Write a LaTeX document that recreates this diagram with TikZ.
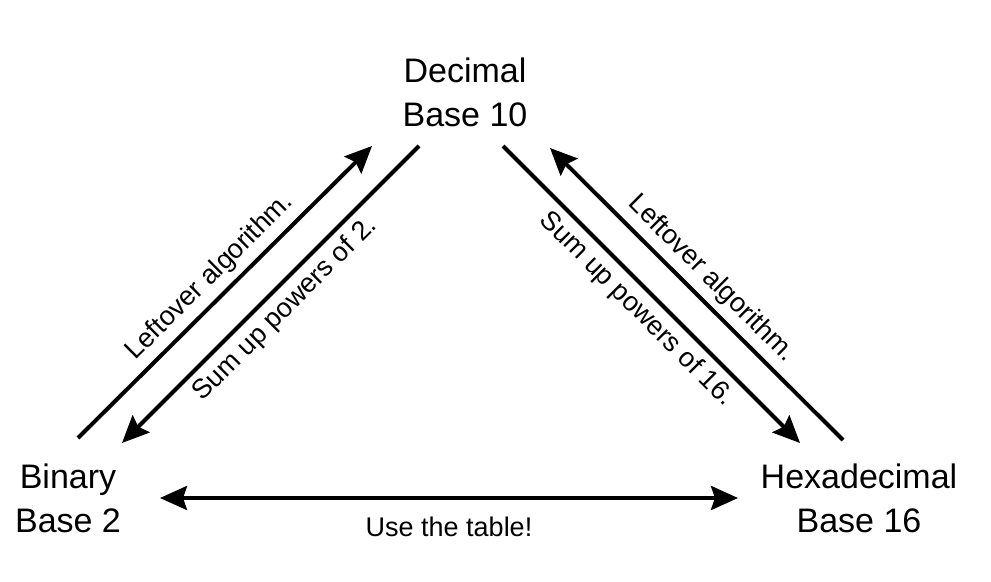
\documentclass[tikz,border=0pt]{standalone}
\usepackage{fontspec}
\setmainfont{Liberation Sans}
\usetikzlibrary{arrows.meta}

\begin{document}
\begin{tikzpicture}[x=0.5pt, y=-0.5pt]

% Define styles
\tikzstyle{base}=[align=center, font=\fontsize{17}{22}\selectfont]
\tikzstyle{conv}=[line width=2pt]
\tikzstyle{note}=[font=\fontsize{13.5}{16}\selectfont]
\tikzset{>={Stealth[length=13.5pt, width=12pt, inset=2pt]}}

% Page
\useasboundingbox (0,0) rectangle (991,582);

% Number systems
\node[base] (dec) at (465,92) {Decimal\\Base 10};
\node[base] (bin) at (68,498) {Binary\\Base 2};
\node[base] (hex) at (859,498) {Hexadecimal\\Base 16};

% Arrow ends
\coordinate (binA) at (78,438);
\coordinate (decA) at (372,146);
\coordinate (binB) at (122,443);
\coordinate (decB) at (419,146);
\coordinate (decC) at (503,146);
\coordinate (hexC) at (800,443);
\coordinate (decD) at (550,148);
\coordinate (hexD) at (843,440);
\coordinate (binE) at (160,498);
\coordinate (hexE) at (738,498);

% Conversions
\draw[conv, ->] (binA) -- (decA) node[note, sloped, midway, above] {Leftover algorithm.};
\draw[conv, <-] (binB) -- (decB) node[note, sloped, midway, below] {Sum up powers of 2.};
\draw[conv, ->] (decC) -- (hexC) node[note, sloped, midway, below] {Sum up powers of 16.};
\draw[conv, <-] (decD) -- (hexD) node[note, sloped, midway, above] {Leftover algorithm.};
\draw[conv, <->] (binE) -- (hexE) node[note, midway, below=5pt] {Use the table!};

\end{tikzpicture}
\end{document}
